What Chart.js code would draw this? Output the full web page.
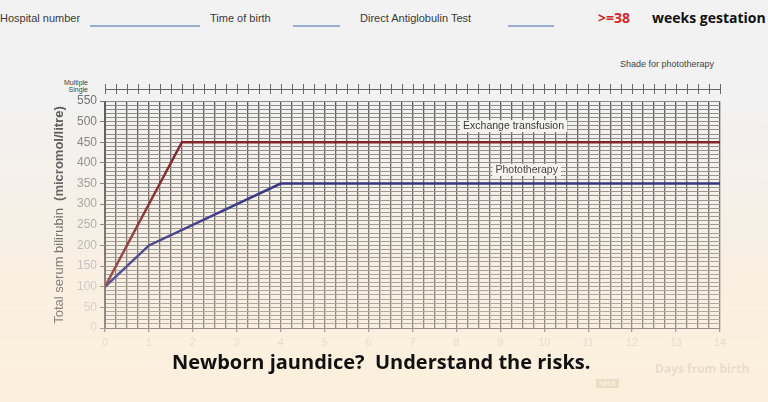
<!DOCTYPE html>
<html>
<head>
<meta charset="utf-8">
<script src="https://cdn.jsdelivr.net/npm/chart.js@4.4.1/dist/chart.umd.min.js"></script>
<style>
  html, body { margin: 0; padding: 0; }
  body { width: 768px; height: 402px; position: relative; overflow: hidden; font-family: "Liberation Sans", Arial, sans-serif;
    background: linear-gradient(to bottom, #f2f2f2 0px, #f2f2f2 110px, #f7f0e6 250px, #fcefdc 402px); }
  #wrap { position: absolute; left: 0; top: 0; width: 768px; height: 402px; }
  .t { position: absolute; white-space: nowrap; }
  .hdr { font-size: 11px; color: #3a3a3a; top: 12px; }
  .uline { position: absolute; height: 2px; background: #9aaccc; top: 25px; }
  #fade { position: absolute; left: 0; top: 0; width: 768px; height: 402px; pointer-events: none;
    background: linear-gradient(to bottom, rgba(253,240,221,0) 0px, rgba(253,240,221,0) 100px, rgba(253,240,221,0.15) 210px, rgba(253,240,221,0.35) 330px, rgba(253,240,221,0.5) 402px); }
  #ytitle { position: absolute; left: 58px; top: 215px; transform: translate(-50%, -50%) rotate(-90deg); font-size: 13px; color: #555; white-space: nowrap; }
</style>
</head>
<body>
<div class="t hdr" style="left:0px">Hospital number</div>
<div class="uline" style="left:90px;width:110px"></div>
<div class="t hdr" style="left:210px">Time of birth</div>
<div class="uline" style="left:293px;width:47px"></div>
<div class="t hdr" style="left:360px">Direct Antiglobulin Test</div>
<div class="uline" style="left:508px;width:46px"></div>
<div class="t" style="left:598px;top:8px;font:bold 14px 'Open Sans',sans-serif;color:#d0262c">&gt;=38</div>
<div class="t" style="left:652px;top:8px;font:bold 14px 'Open Sans',sans-serif;color:#111">weeks gestation</div>
<div class="t" style="left:620px;top:59px;font-size:9px;color:#444">Shade for phototherapy</div>
<div class="t" style="left:58px;top:79px;font-size:7px;color:#444;line-height:7px;text-align:right;width:30px">Multiple<br>Single</div>
<div id="wrap"><canvas id="chart" width="768" height="402"></canvas></div>
<div id="ytitle">Total serum bilirubin&nbsp; <b>(micromol/litre)</b></div>
<div id="fade"></div>
<div class="t" style="left:655px;top:360px;font:bold 12px 'Open Sans',sans-serif;color:#e9dccb">Days from birth</div>
<div class="t" style="left:596px;top:379px;font:bold 8px 'Liberation Sans',sans-serif;color:#fdf0dd;background:#ecdcc6;padding:0 3px">NHS</div>
<div class="t" style="left:172px;top:348px;font:bold 20px 'Open Sans',sans-serif;color:#111">Newborn jaundice?&nbsp; Understand the risks.</div>

<script>
// days from birth
const exchangeDays = [0, 1.75, 14];
const exchangeValues = [100, 450, 450];
const photoDays = [0, 1, 4, 14];
const photoValues = [100, 200, 350, 350];
const lineNames = ['Exchange transfusion', 'Phototherapy'];
const dayTicks = [0, 1, 2, 3, 4, 5, 6, 7, 8, 9, 10, 11, 12, 13, 14];
const bilirubinTicks = [0, 50, 100, 150, 200, 250, 300, 350, 400, 450, 500, 550];

function toPoints(xs, ys) {
    let arr = [];
    for (let i = 0; i < xs.length; i++) {
        arr.push({ x: xs[i], y: ys[i] });
    }
    return arr;
}

// y labels get lighter toward the bottom like the faded scan
function yLabelColor(c) {
    let g = Math.round(115 + (550 - c.tick.value) / 550 * 90);
    return `rgb(${g},${g},${g})`;
}

// the multiple / single strip above the grid and the line labels
const extras = {
    id: 'extras',
    afterDraw(chart) {
        const ctx = chart.ctx;
        const xs = chart.scales.x;
        const ys = chart.scales.y;
        ctx.save();
        ctx.strokeStyle = '#666';
        ctx.lineWidth = 1;
        ctx.beginPath();
        ctx.moveTo(xs.left, 89.5);
        ctx.lineTo(xs.right, 89.5);
        for (let d = 0; d <= 14; d += 0.25) {
            let px = Math.round(xs.getPixelForValue(d)) + 0.5;
            ctx.moveTo(px, 84);
            ctx.lineTo(px, 94);
        }
        ctx.stroke();

        ctx.font = '10.5px "Liberation Sans", Arial, sans-serif';
        ctx.textAlign = 'center';
        ctx.textBaseline = 'middle';
        const labels = [[lineNames[0], 9.3, 489], [lineNames[1], 9.6, 383]];
        labels.forEach(l => {
            let px = xs.getPixelForValue(l[1]);
            let py = ys.getPixelForValue(l[2]);
            let w = ctx.measureText(l[0]).width + 6;
            ctx.fillStyle = '#f4f4f4';
            ctx.fillRect(px - w / 2, py - 6, w, 12);
            ctx.fillStyle = '#333';
            ctx.fillText(l[0], px, py);
        });
        ctx.restore();
    }
};

const ctx = document.getElementById('chart').getContext('2d');
const chart = new Chart(ctx, {
    type: 'line',
    data: {
        datasets: [{
            label: lineNames[0],
            data: toPoints(exchangeDays, exchangeValues),
            borderColor: '#7a1a1e',
            borderWidth: 2.5,
            pointRadius: 0,
            tension: 0
        }, {
            label: lineNames[1],
            data: toPoints(photoDays, photoValues),
            borderColor: '#1f1f78',
            borderWidth: 2.5,
            pointRadius: 0,
            tension: 0
        }]
    },
    options: {
        responsive: false,
        animation: false,
        events: [],
        layout: { padding: { left: 0, top: 101, right: 48, bottom: 0 } },
        plugins: { legend: { display: false }, tooltip: { enabled: false } },
        scales: {
            x: {
                type: 'linear',
                min: 0,
                max: 14,
                afterFit: s => { s.height = 74; },
                afterBuildTicks: s => {
                    let t = [];
                    for (let d = 0; d <= 56; d++) t.push({ value: d / 4 });
                    s.ticks = t;
                },
                ticks: {
                    autoSkip: false,
                    maxRotation: 0,
                    padding: 4,
                    color: '#dad0c2',
                    font: { family: '"Liberation Sans", Arial, sans-serif', size: 11 },
                    callback: v => dayTicks.includes(v) ? String(v) : ''
                },
                grid: {
                    color: '#5c5c5c',
                    lineWidth: 1.3,
                    tickLength: 4,
                    tickColor: c => (c.tick && dayTicks.includes(c.tick.value)) ? '#777' : 'rgba(0,0,0,0)'
                },
                border: { color: '#5c5c5c' }
            },
            y: {
                min: 0,
                max: 550,
                afterFit: s => { s.width = 105; },
                afterBuildTicks: s => {
                    let t = [];
                    for (let v = 0; v <= 550; v += 10) t.push({ value: v });
                    s.ticks = t;
                },
                ticks: {
                    autoSkip: false,
                    padding: 3,
                    color: yLabelColor,
                    font: { family: '"Liberation Sans", Arial, sans-serif', size: 12 },
                    callback: v => bilirubinTicks.includes(v) ? String(v) : ''
                },
                grid: {
                    color: '#8a8a8a',
                    lineWidth: 1,
                    tickLength: 5,
                    tickColor: c => (c.tick && bilirubinTicks.includes(c.tick.value)) ? '#777' : 'rgba(0,0,0,0)'
                },
                border: { color: '#5c5c5c' }
            }
        }
    },
    plugins: [extras]
});
</script>
</body>
</html>
